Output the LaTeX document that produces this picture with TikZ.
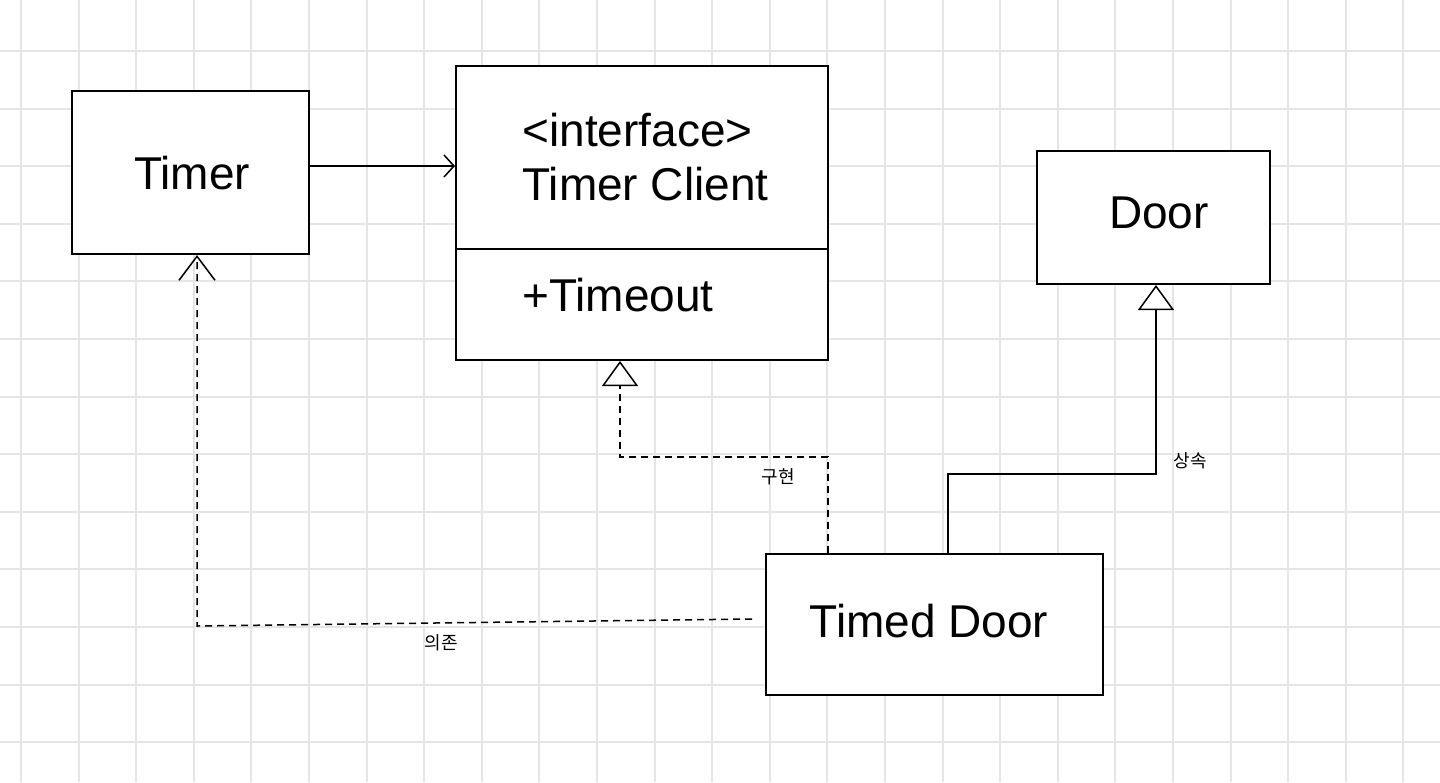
\documentclass[tikz,border=0pt]{standalone}
\usepackage{fontspec}
\setmainfont{Liberation Sans}
\newfontfamily\kofont{Noto Sans CJK KR}
\usetikzlibrary{arrows.meta}
\begin{document}
\begin{tikzpicture}[x=0.5pt,y=-0.5pt,
  gridline/.style={draw=black!10, line width=1pt},
  classbox/.style={draw=black, line width=1pt, fill=white, inner sep=0pt},
  lbl/.style={font=\fontsize{23}{26}\selectfont, inner sep=0pt},
  klbl/.style={font=\kofont\fontsize{9}{10}\selectfont, inner sep=0pt},
  conn/.style={draw=black, line width=0.75pt},
  dashconn/.style={conn, dash pattern=on 3.5pt off 2.5pt},
  openv/.style={-{Straight Barb[length=5pt,width=11pt,line width=0.75pt]}},
  depv/.style={-{Straight Barb[length=12pt,width=18pt,line width=0.75pt]}},
  tri/.style={-{Triangle[open,length=12.5pt,width=18pt,line width=0.75pt,fill=white]}}
]
\useasboundingbox (0,0) rectangle (1440,782);
\fill[white] (0,0) rectangle (1440,782);
% grid
\foreach \i in {0,...,24} {\draw[gridline] ({21+57.6*\i},0) -- ({21+57.6*\i},782);}
\foreach \j in {0,...,12} {\draw[gridline] (0,{51+57.6*\j}) -- (1440,{51+57.6*\j});}

% boxes
\node[classbox, minimum width=118.5pt, minimum height=81.5pt] (timer) at (190.5,172.5) {};
\node[classbox, minimum width=186pt, minimum height=147pt] (tc) at (642,213) {};
\node[classbox, minimum width=116.5pt, minimum height=66.5pt] (door) at (1153.5,217.5) {};
\node[classbox, minimum width=168.5pt, minimum height=70.5pt] (td) at (934.5,624.5) {};
\draw[line width=1pt] (tc.west |- 0,249) -- (tc.east |- 0,249);

% texts
\node[lbl, anchor=base] (timertxt) at (192,189) {Timer};
\node[lbl, anchor=base west] (ifacetxt) at (522,146) {<interface>};
\node[lbl, anchor=base west] (tctxt) at (522,200) {Timer Client};
\node[lbl, anchor=base west] (totxt) at (522,311) {+Timeout};
\node[lbl, anchor=base] (doortxt) at (1159,228) {Door};
\node[lbl, anchor=base] (tdtxt) at (929,637) {Timed Door};

% association
\draw[conn, openv] (timer.east |- 0,166) -- (tc.west |- 0,166);

% dependency
\coordinate (dstart) at (752,619);
\coordinate (dcorner) at (197,626);
\draw[dashconn, depv] (dstart) -- (dcorner) -- (timer.south -| dcorner);
\node[klbl] (deplbl) at (441,643) {의존};

% realization
\coordinate (rc1) at (828,457);
\coordinate (rc2) at (620,457);
\draw[dashconn, tri] (td.north -| rc1) -- (rc1) -- (rc2) -- (tc.south -| rc2);
\node[klbl] (reallbl) at (778,477) {구현};

% inheritance
\coordinate (ic1) at (948,474);
\coordinate (ic2) at (1156,474);
\draw[conn, tri] (td.north -| ic1) -- (ic1) -- (ic2) -- (door.south -| ic2);
\node[klbl] (inhlbl) at (1190,461) {상속};
\end{tikzpicture}
\end{document}
